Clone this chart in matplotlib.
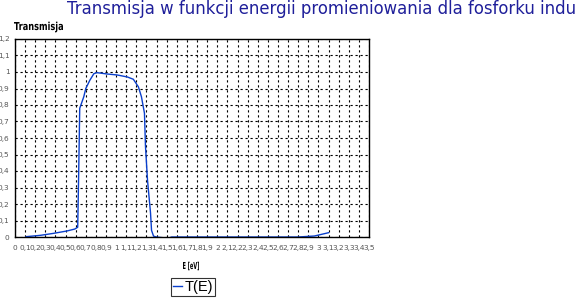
import numpy as np
import matplotlib.pyplot as plt
from matplotlib.ticker import MultipleLocator, FuncFormatter
from matplotlib.textpath import TextPath
from matplotlib.patches import PathPatch
from matplotlib.font_manager import FontProperties
from matplotlib.transforms import Affine2D

# energy [eV] and transmission
energy = [0.11, 0.25, 0.38, 0.51, 0.59, 0.62, 0.63, 0.64, 0.68, 0.70, 0.74, 0.78,
          0.81, 0.91, 1.01, 1.11, 1.17, 1.22, 1.25, 1.28, 1.29, 1.31, 1.34, 1.35,
          1.37, 1.40, 1.48, 1.52, 1.55, 2.80, 2.96, 3.10]
trans = [0.002, 0.010, 0.022, 0.036, 0.048, 0.059, 0.40, 0.78, 0.85, 0.90, 0.95, 0.99,
         0.996, 0.988, 0.982, 0.97, 0.956, 0.91, 0.85, 0.75, 0.55, 0.345, 0.145, 0.04,
         0.005, 0.0, -0.006, -0.006, 0.0, 0.0, 0.006, 0.026]

title = "Transmisja w funkcji energii promieniowania dla fosforku indu"

W, H = 578, 298
fig = plt.figure(figsize=(W / 100, H / 100), dpi=100)
ax = fig.add_axes([15 / W, 1 - 237 / H, 354 / W, 198 / H])

ax.plot(energy, trans, color="#0a3fcc", lw=1.0, label="T(E)", zorder=2)
ax.set_xlim(0, 3.5)
ax.set_ylim(0, 1.2)
ax.xaxis.set_major_locator(MultipleLocator(0.1))
ax.yaxis.set_major_locator(MultipleLocator(0.1))

fmt = FuncFormatter(lambda v, p: ("%g" % round(v, 2)).replace(".", ","))
ax.xaxis.set_major_formatter(fmt)
ax.yaxis.set_major_formatter(fmt)
ax.tick_params(length=0, labelsize=5.3, colors="#555555", pad=6)
ax.tick_params(axis="y", pad=4)
ax.grid(True, color="black", linestyle=(0, (2, 2.5)), lw=0.8)
for s in ax.spines.values():
    s.set_color("black")
    s.set_linewidth(1.0)
    s.set_zorder(3)

fig.text(67 / W, 1 - 9 / H, title, color="#1f1f9a", fontsize=11.9,
         family="DejaVu Sans", ha="left", va="center")


# narrow bold labels: squeeze a text path to the size seen in the picture
def narrow_text(s, left, baseline, width, cap):
    tp = TextPath((0, 0), s, size=10, prop=FontProperties(family="DejaVu Sans", weight="bold"))
    ext = tp.get_extents()
    sx = width / ext.width
    sy = cap / 7.3
    tr = Affine2D().translate(-ext.x0, 0).scale(sx / W, sy / H).translate(left / W, 1 - baseline / H)
    fig.add_artist(PathPatch(tp, transform=tr + fig.transFigure, color="black", lw=0))


narrow_text("Transmisja", 14, 30, 49, 8)
narrow_text("E [eV]", 183, 269, 16, 7)

leg = fig.legend(loc="center", bbox_to_anchor=(193 / W, 1 - 287 / H),
                 prop={"family": "Liberation Sans", "size": 10.5},
                 handlelength=0.6, handletextpad=0.2, borderpad=0.15,
                 fancybox=False, frameon=True, edgecolor="black")
leg.get_frame().set_linewidth(0.8)

fig.savefig("out.png", dpi=100)
